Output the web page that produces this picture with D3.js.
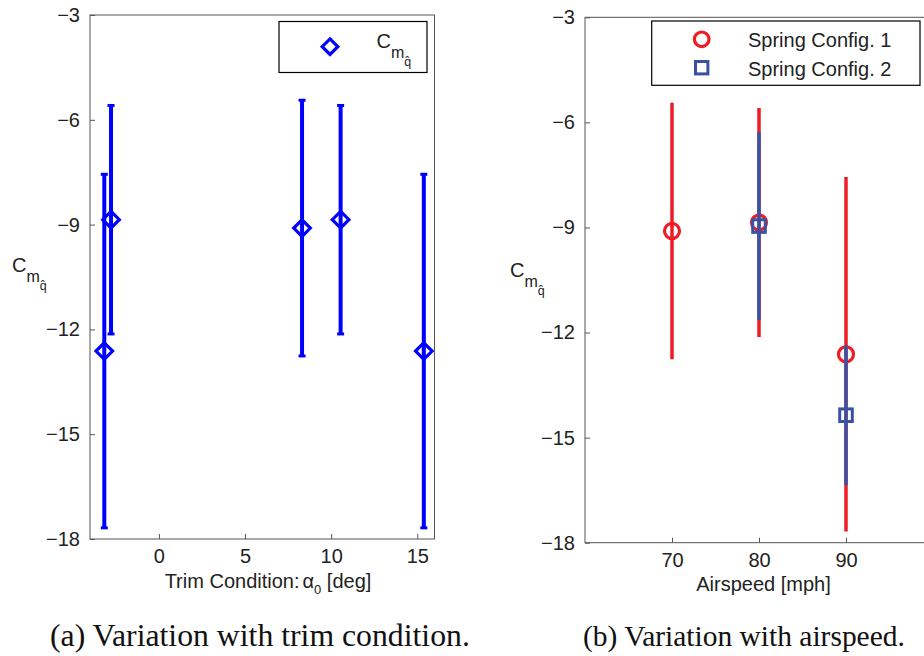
<!DOCTYPE html>
<html>
<head>
<meta charset="utf-8">
<script src="https://cdn.jsdelivr.net/npm/d3@7"></script>
<style>
  body { margin: 0; background: #fff; }
  text { font-family: "Liberation Sans", Arial, Helvetica, sans-serif; fill: #222; }
  .caption { font-family: "Liberation Serif", "DejaVu Serif", serif; fill: #111; }
</style>
</head>
<body>
<svg id="fig" width="924" height="656"></svg>
<script>
// ---- (a) trim-condition sweep: trim angle [deg], estimate, +/- half-width
const trimAlpha = [-3.17, -2.78, 8.31, 10.55, 15.38];
const trimCmq   = [-12.62, -8.86, -9.10, -8.86, -12.62];
const trimErr   = [5.06, 3.27, 3.66, 3.27, 5.06];

// ---- (b) airspeed sweep for two spring configurations
const config1Speed = [70, 80, 90];
const config1Cmq   = [-9.10, -8.86, -12.62];
const config1Err   = [3.66, 3.27, 5.06];

const config2Speed = [80, 90];
const config2Cmq   = [-8.96, -14.36];
const config2Err   = [2.68, 2.00];

// ---- tick values
const yTickValues     = [-3, -6, -9, -12, -15, -18];
const trimTickValues  = [0, 5, 10, 15];
const speedTickValues = [70, 80, 90];

const legendLabels = ["Spring Config. 1", "Spring Config. 2"];

const BLUE = "#0000ff";
const RED = "#ee1c24";
const NAVY = "#3953a4";
const SPINE = "#555";

const svg = d3.select("#fig");

const minus = d => String(d).replace("-", "\u2212");

// Boxed axes with inward ticks
function makeAxes(g, x, y, xTicks, yTicks) {
  const [x0, x1] = x.range();
  const [y0, y1] = y.range(); // y0 bottom, y1 top

  const xAxis = d3.axisBottom(x).tickValues(xTicks).tickSize(-5).tickPadding(10).tickFormat(minus);
  const yAxis = d3.axisLeft(y).tickValues(yTicks).tickSize(-5).tickPadding(10).tickFormat(minus);

  const gx = g.append("g").attr("transform", `translate(0,${y0})`).call(xAxis);
  const gy = g.append("g").attr("transform", `translate(${x0},0)`).call(yAxis);
  [gx, gy].forEach(a => {
    a.select(".domain").remove();
    a.selectAll(".tick line").attr("stroke", SPINE).attr("stroke-width", 1);
    a.selectAll(".tick text").attr("font-size", 20).attr("fill", "#222")
      .attr("font-family", "Liberation Sans, Arial, sans-serif");
  });

  g.append("rect")
    .attr("x", x0).attr("y", y1)
    .attr("width", x1 - x0).attr("height", y0 - y1)
    .attr("fill", "none").attr("stroke", SPINE).attr("stroke-width", 1);
}

// C_{m_{q̂}} written as one text element with nested subscripts
function cmqLabel(g, x, baseline, big) {
  const t = g.append("text").attr("x", x).attr("y", baseline).attr("font-size", big);
  t.append("tspan").text("C");
  t.append("tspan").attr("font-size", big * 0.8).attr("dy", 10).text("m");
  t.append("tspan").attr("font-size", big * 0.62).attr("dy", 7.5).text("q\u0302");
  return t;
}

function diamond(s) {
  return `M0,${-s}L${s},0L0,${s}L${-s},0Z`;
}

// ================= Panel (a) =================
{
  const g = svg.append("g");
  const x = d3.scaleLinear().domain([-4, 16]).range([90, 434.5]);
  const y = d3.scaleLinear().domain([-18, -3]).range([539, 15]);
  makeAxes(g, x, y, trimTickValues, yTickValues);

  const pts = trimAlpha.map((a, i) => ({ a, v: trimCmq[i], e: trimErr[i] }));

  // error bars
  g.selectAll("line.bar").data(pts).join("line")
    .attr("x1", d => x(d.a)).attr("x2", d => x(d.a))
    .attr("y1", d => y(d.v + d.e)).attr("y2", d => y(d.v - d.e))
    .attr("stroke", BLUE).attr("stroke-width", 4);
  // caps
  ["top", "bot"].forEach(k => {
    g.selectAll("rect.cap" + k).data(pts).join("rect")
      .attr("x", d => x(d.a) - 3.5).attr("width", 7)
      .attr("y", d => y(k === "top" ? d.v + d.e : d.v - d.e) - 1.5).attr("height", 3)
      .attr("fill", BLUE);
  });
  // markers
  g.selectAll("path.mk").data(pts).join("path")
    .attr("transform", d => `translate(${x(d.a)},${y(d.v)})`)
    .attr("d", diamond(8.3))
    .attr("fill", "none").attr("stroke", BLUE).attr("stroke-width", 3.2);

  // legend
  const lg = g.append("g");
  lg.append("rect").attr("x", 279).attr("y", 21.5).attr("width", 148).attr("height", 51)
    .attr("fill", "#fff").attr("stroke", "#000").attr("stroke-width", 1.2);
  lg.append("path").attr("transform", "translate(330,46.7)").attr("d", diamond(7.8))
    .attr("fill", "none").attr("stroke", BLUE).attr("stroke-width", 3.2);
  cmqLabel(lg, 376.5, 48, 20);

  // axis titles
  cmqLabel(g, 12, 272, 20);
  const xt = g.append("text").attr("x", 268).attr("y", 588)
    .attr("text-anchor", "middle").attr("font-size", 20);
  xt.append("tspan").text("Trim Condition:");
  xt.append("tspan").attr("dx", 3).text("\u03b1");
  xt.append("tspan").attr("font-size", 13).attr("dy", 6).text("0");
  xt.append("tspan").attr("dy", -6).text(" [deg]");
}

// ================= Panel (b) =================
{
  const g = svg.append("g");
  const x = d3.scaleLinear().domain([60, 100]).range([585, 933]);
  const y = d3.scaleLinear().domain([-18, -3]).range([542.7, 17.3]);
  makeAxes(g, x, y, speedTickValues, yTickValues);

  const c1 = config1Speed.map((s, i) => ({ s, v: config1Cmq[i], e: config1Err[i] }));
  const c2 = config2Speed.map((s, i) => ({ s, v: config2Cmq[i], e: config2Err[i] }));

  // configuration 1: bars then circles
  g.selectAll("line.c1").data(c1).join("line")
    .attr("x1", d => x(d.s)).attr("x2", d => x(d.s))
    .attr("y1", d => y(d.v + d.e)).attr("y2", d => y(d.v - d.e))
    .attr("stroke", RED).attr("stroke-width", 3.5);
  g.selectAll("circle.c1").data(c1).join("circle")
    .attr("cx", d => x(d.s)).attr("cy", d => y(d.v)).attr("r", 7.5)
    .attr("fill", "none").attr("stroke", RED).attr("stroke-width", 3.2);

  // configuration 2: bars then squares
  g.selectAll("line.c2").data(c2).join("line")
    .attr("x1", d => x(d.s)).attr("x2", d => x(d.s))
    .attr("y1", d => y(d.v + d.e)).attr("y2", d => y(d.v - d.e))
    .attr("stroke", NAVY).attr("stroke-width", 3.5);
  g.selectAll("rect.c2").data(c2).join("rect")
    .attr("x", d => x(d.s) - 6.3).attr("y", d => y(d.v) - 6.3)
    .attr("width", 12.6).attr("height", 12.6)
    .attr("fill", "none").attr("stroke", NAVY).attr("stroke-width", 3);

  // legend
  const lg = g.append("g");
  lg.append("rect").attr("x", 651.7).attr("y", 21).attr("width", 268.3).attr("height", 64.3)
    .attr("fill", "#fff").attr("stroke", "#000").attr("stroke-width", 1.2);
  lg.append("circle").attr("cx", 701.7).attr("cy", 39.3).attr("r", 7.3)
    .attr("fill", "none").attr("stroke", RED).attr("stroke-width", 3.2);
  lg.append("rect").attr("x", 701.7 - 6.2).attr("y", 67.7 - 6.2).attr("width", 12.4).attr("height", 12.4)
    .attr("fill", "none").attr("stroke", NAVY).attr("stroke-width", 3);
  lg.selectAll("text.lab").data(legendLabels).join("text")
    .attr("x", 748).attr("y", (d, i) => 47 + i * 29).attr("font-size", 20).text(d => d);

  // axis titles
  cmqLabel(g, 510, 277, 20);
  g.append("text").attr("x", 763.5).attr("y", 591).attr("text-anchor", "middle")
    .attr("font-size", 20).text("Airspeed [mph]");
}

// ================= captions =================
const captions = [
  { text: "(a) Variation with trim condition.", x0: 50, x1: 470 },
  { text: "(b) Variation with airspeed.", x0: 583, x1: 905 }
];
captions.forEach(c => {
  const t = svg.append("text").attr("class", "caption")
    .attr("x", c.x0).attr("y", 646).attr("font-size", 20).text(c.text);
  const w = t.node().getComputedTextLength();
  t.attr("font-size", 20 * (c.x1 - c.x0) / w);
});
</script>
</body>
</html>
